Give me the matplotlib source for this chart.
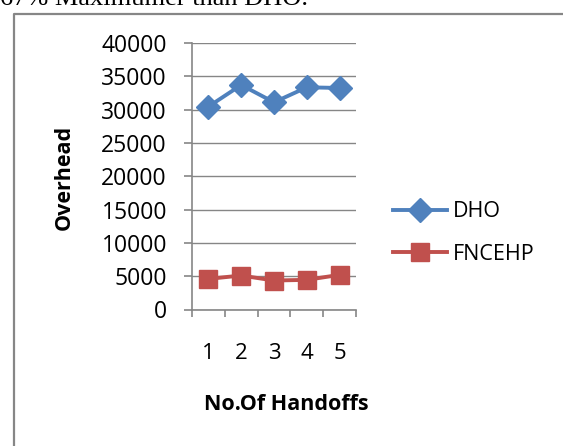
import matplotlib.pyplot as plt
from matplotlib.lines import Line2D

handoffs = [1, 2, 3, 4, 5]
dho = [30450, 33700, 31100, 33350, 33250]
fncehp = [4600, 5100, 4350, 4450, 5200]
yticks = [0, 5000, 10000, 15000, 20000, 25000, 30000, 35000, 40000]

W, H = 563, 446
font = 'Open Sans'
grey = '#868686'

fig = plt.figure(figsize=(W / 100, H / 100), dpi=100)

# frame around the chart (only top and left edges visible)
fig.add_artist(Line2D([13.5 / W, 13.5 / W, 1.0], [0.0, 1 - 13.5 / H, 1 - 13.5 / H],
                      transform=fig.transFigure, color=grey, lw=1.6))

# line of text above the chart, cut off by the top edge
fig.text(0.0, 1 - 5 / H, '67% Maximumer than DHO.', family='Liberation Serif',
         fontsize=19, va='baseline', ha='left')

ax = fig.add_axes([192 / W, 1 - 309.5 / H, (356 - 192) / W, (309.5 - 43) / H])
ax.plot(handoffs, dho, color='#4F81BD', lw=2.8, marker='D', ms=12, label='DHO')
ax.plot(handoffs, fncehp, color='#C0504D', lw=2.8, marker='s', ms=13, label='FNCEHP')

ax.set_xlim(0.5, 5.5)
ax.set_ylim(0, 40000)
ax.set_yticks(yticks)
ax.set_yticklabels([str(v) for v in yticks], family=font, fontsize=16.5)
ax.grid(axis='y', color=grey, lw=1.0)
ax.set_axisbelow(True)

# category boundaries as ticks, labels at the centres
ax.set_xticks([0.5, 1.5, 2.5, 3.5, 4.5, 5.5])
ax.set_xticklabels([])
ax.set_xticks(handoffs, minor=True)
ax.set_xticklabels([str(h) for h in handoffs], minor=True, family=font, fontsize=16)
ax.tick_params(axis='x', which='major', length=5, width=1.2, color=grey)
ax.tick_params(axis='x', which='minor', length=0, pad=24)
ax.tick_params(axis='y', length=6, width=1.2, color=grey, pad=12)

for s in ['top', 'right']:
    ax.spines[s].set_visible(False)
for s in ['left', 'bottom']:
    ax.spines[s].set_color(grey)
    ax.spines[s].set_linewidth(1.2)

fig.text(64 / W, 1 - 177 / H, 'Overhead', rotation=90, ha='center', va='center',
         family=font, fontweight='bold', fontsize=15.5)
fig.text(286 / W, 1 - 404 / H, 'No.Of Handoffs', ha='center', va='center',
         family=font, fontweight='bold', fontsize=15.5)

fig.legend(loc='center left', bbox_to_anchor=(393 / W, 1 - 233 / H), frameon=False,
           prop={'family': font, 'size': 15.5}, handlelength=2.5, handletextpad=0.3,
           labelspacing=1.0, borderaxespad=0, borderpad=0)

fig.savefig('out.png', dpi=100)
